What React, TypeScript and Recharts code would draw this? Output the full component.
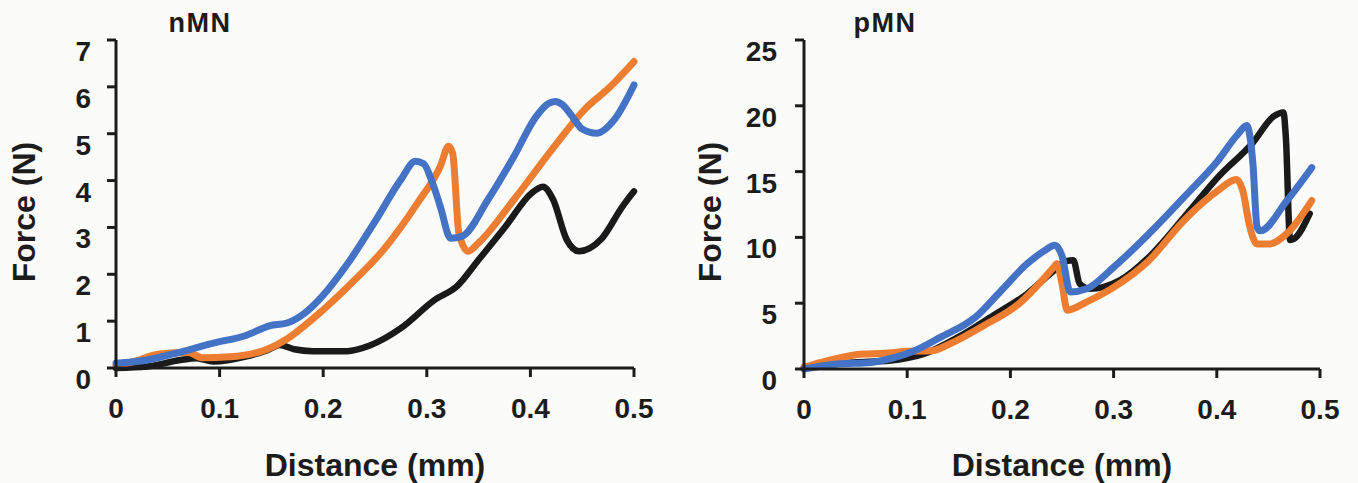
import React from "react";
import { LineChart, Line, XAxis, YAxis, Label } from "recharts";

// ---------- data ----------
const xTicks = [0, 0.1, 0.2, 0.3, 0.4, 0.5];
const nmnYTicks = [0, 1, 2, 3, 4, 5, 6, 7];
const pmnYTicks = [0, 5, 10, 15, 20, 25];

const nmnBlack: [number, number][] = [
  [0, 0], [0.03, 0.03], [0.062, 0.17], [0.078, 0.21], [0.094, 0.14], [0.126, 0.25],
  [0.146, 0.38], [0.158, 0.49], [0.172, 0.4], [0.19, 0.36], [0.223, 0.36], [0.245, 0.48],
  [0.275, 0.85], [0.308, 1.46], [0.329, 1.74], [0.35, 2.31], [0.376, 3.02], [0.401, 3.73],
  [0.412, 3.87], [0.422, 3.59], [0.435, 2.74], [0.447, 2.49], [0.468, 2.74], [0.489, 3.45],
  [0.5, 3.77],
];
const nmnOrange: [number, number][] = [
  [0, 0.05], [0.016, 0.13], [0.042, 0.3], [0.07, 0.33], [0.083, 0.22], [0.11, 0.24],
  [0.146, 0.4], [0.165, 0.62], [0.19, 1.05], [0.224, 1.74], [0.258, 2.52], [0.291, 3.52],
  [0.313, 4.3], [0.321, 4.73], [0.325, 4.58], [0.331, 2.88], [0.34, 2.49], [0.35, 2.67],
  [0.384, 3.59], [0.418, 4.58], [0.452, 5.51], [0.477, 6.0], [0.5, 6.54],
];
const nmnBlue: [number, number][] = [
  [0, 0.1], [0.03, 0.17], [0.062, 0.34], [0.094, 0.53], [0.126, 0.7], [0.148, 0.9],
  [0.165, 0.96], [0.182, 1.17], [0.199, 1.53], [0.224, 2.24], [0.249, 3.09], [0.275, 4.02],
  [0.289, 4.41], [0.297, 4.36], [0.305, 3.98], [0.313, 3.45], [0.323, 2.77], [0.334, 2.81],
  [0.359, 3.59], [0.384, 4.51], [0.405, 5.35], [0.417, 5.64], [0.424, 5.69], [0.431, 5.62],
  [0.44, 5.38], [0.45, 5.1], [0.464, 5.01], [0.481, 5.3], [0.5, 6.04],
];

const pmnBlack: [number, number][] = [
  [0, 0.13], [0.048, 0.5], [0.082, 0.63], [0.116, 1.14], [0.149, 2.4], [0.183, 4.05],
  [0.216, 5.7], [0.242, 7.47], [0.254, 8.2], [0.261, 8.26], [0.267, 6.5], [0.277, 6.1],
  [0.306, 6.74], [0.334, 8.49], [0.368, 11.5], [0.401, 14.56], [0.435, 17.2], [0.455, 19.2],
  [0.4645, 19.5], [0.467, 17.5], [0.471, 9.8], [0.475, 9.9], [0.49, 11.8],
];
const pmnOrange: [number, number][] = [
  [0, 0.13], [0.023, 0.63], [0.057, 1.14], [0.078, 1.19], [0.099, 1.34], [0.124, 1.39],
  [0.141, 1.9], [0.174, 3.29], [0.208, 4.94], [0.242, 7.73], [0.245, 8.0], [0.25, 6.5],
  [0.255, 4.47], [0.274, 5.1], [0.3, 6.2], [0.334, 8.23], [0.368, 11.27], [0.401, 13.55],
  [0.419, 14.4], [0.425, 13.6], [0.432, 10.8], [0.439, 9.5], [0.451, 9.5], [0.468, 10.3],
  [0.492, 12.8],
];
const pmnBlue: [number, number][] = [
  [0, 0], [0.032, 0.38], [0.065, 0.5], [0.082, 0.76], [0.107, 1.39], [0.132, 2.4],
  [0.166, 3.93], [0.191, 5.95], [0.216, 7.98], [0.233, 8.99], [0.243, 9.4], [0.25, 8.6],
  [0.258, 5.86], [0.274, 6.1], [0.3, 7.73], [0.334, 10.26], [0.368, 13.04], [0.401, 15.83],
  [0.42, 17.8], [0.429, 18.5], [0.435, 15.6], [0.439, 10.8], [0.442, 10.5], [0.468, 12.8],
  [0.492, 15.3],
];

const toPts = (a: [number, number][]) => a.map(([x, y]) => ({ x, y }));

// ---------- styles ----------
const FONT = "'Liberation Sans', Arial, Helvetica, sans-serif";
const INK = "#1c1c1c";
const BLACK = "#1a1a1a";
const ORANGE = "#ED7D31";
const BLUE = "#4472C4";

const makeYTick = (shift: number) => (props: any) => {
  const { x, y, payload } = props;
  return (
    <text x={x - shift} y={y + 21} textAnchor="end" fontSize={28} fontWeight="bold" fill={INK} fontFamily={FONT}>
      {payload.value}
    </text>
  );
};

const XTick = (props: any) => {
  const { x, y, payload } = props;
  return (
    <text x={x} y={y + 39} textAnchor="middle" fontSize={28} fontWeight="bold" fill={INK} fontFamily={FONT}>
      {payload.value}
    </text>
  );
};

type PanelProps = {
  left: number;
  width: number;
  yAxisWidth: number;
  rightMargin: number;
  xAxisHeight: number;
  yMax: number;
  yTicks: number[];
  title: string;
  titleX: number;
  forceX: number;
  tickShift: number;
  black: [number, number][];
  orange: [number, number][];
  blue: [number, number][];
};

const Panel = (p: PanelProps) => {
  const YTick = makeYTick(p.tickShift);
  return (
    <div style={{ position: "absolute", left: p.left, top: 0 }}>
      <LineChart width={p.width} height={483} margin={{ top: 40, right: p.rightMargin, bottom: 0, left: 0 }}>
        <XAxis
          type="number"
          dataKey="x"
          domain={[0, 0.5]}
          ticks={xTicks}
          height={p.xAxisHeight}
          tick={<XTick />}
          tickSize={9}
          tickMargin={2}
          axisLine={{ stroke: INK, strokeWidth: 3 }}
          tickLine={{ stroke: INK, strokeWidth: 3 }}
          interval={0}
        >
          <Label
            content={(lp: any) => {
              const vb = lp.viewBox;
              return (
                <text x={vb.x + vb.width / 2} y={476} textAnchor="middle" fontSize={32} fontWeight="bold" fill={INK} fontFamily={FONT}>
                  Distance (mm)
                </text>
              );
            }}
          />
        </XAxis>
        <YAxis
          type="number"
          domain={[0, p.yMax]}
          ticks={p.yTicks}
          width={p.yAxisWidth}
          tick={<YTick />}
          tickSize={9}
          tickMargin={2}
          axisLine={{ stroke: INK, strokeWidth: 3 }}
          tickLine={{ stroke: INK, strokeWidth: 3 }}
          interval={0}
        >
          <Label
            content={() => (
              <g>
                <text
                  x={p.forceX}
                  y={212}
                  textAnchor="middle"
                  dominantBaseline="central"
                  transform={`rotate(-90, ${p.forceX}, 212)`}
                  fontSize={32}
                  fontWeight="bold"
                  fill={INK}
                  fontFamily={FONT}
                >
                  Force (N)
                </text>
                <text x={p.titleX} y={32} textAnchor="middle" fontSize={27} letterSpacing={1.5} fontWeight="bold" fill={INK} fontFamily={FONT}>
                  {p.title}
                </text>
              </g>
            )}
          />
        </YAxis>
        <Line data={toPts(p.black)} dataKey="y" type="monotone" stroke={BLACK} strokeWidth={6.5} dot={false} isAnimationActive={false} strokeLinecap="round" strokeLinejoin="round" />
        <Line data={toPts(p.orange)} dataKey="y" type="monotone" stroke={ORANGE} strokeWidth={7} dot={false} isAnimationActive={false} strokeLinecap="round" strokeLinejoin="round" />
        <Line data={toPts(p.blue)} dataKey="y" type="monotone" stroke={BLUE} strokeWidth={7} dot={false} isAnimationActive={false} strokeLinecap="round" strokeLinejoin="round" />
      </LineChart>
    </div>
  );
};

export default function App() {
  return (
    <div style={{ position: "absolute", left: 0, top: 0, width: 1358, height: 483, background: "#fbfbf9", overflow: "hidden" }}>
      <Panel
        left={0}
        width={680}
        yAxisWidth={116}
        rightMargin={46}
        xAxisHeight={115}
        yMax={7}
        yTicks={nmnYTicks}
        title="nMN"
        titleX={200}
        forceX={24}
        tickShift={14}
        black={nmnBlack}
        orange={nmnOrange}
        blue={nmnBlue}
      />
      <Panel
        left={680}
        width={678}
        yAxisWidth={124}
        rightMargin={38}
        xAxisHeight={114}
        yMax={25}
        yTicks={pmnYTicks}
        title="pMN"
        titleX={205}
        forceX={30}
        tickShift={16}
        black={pmnBlack}
        orange={pmnOrange}
        blue={pmnBlue}
      />
    </div>
  );
}
